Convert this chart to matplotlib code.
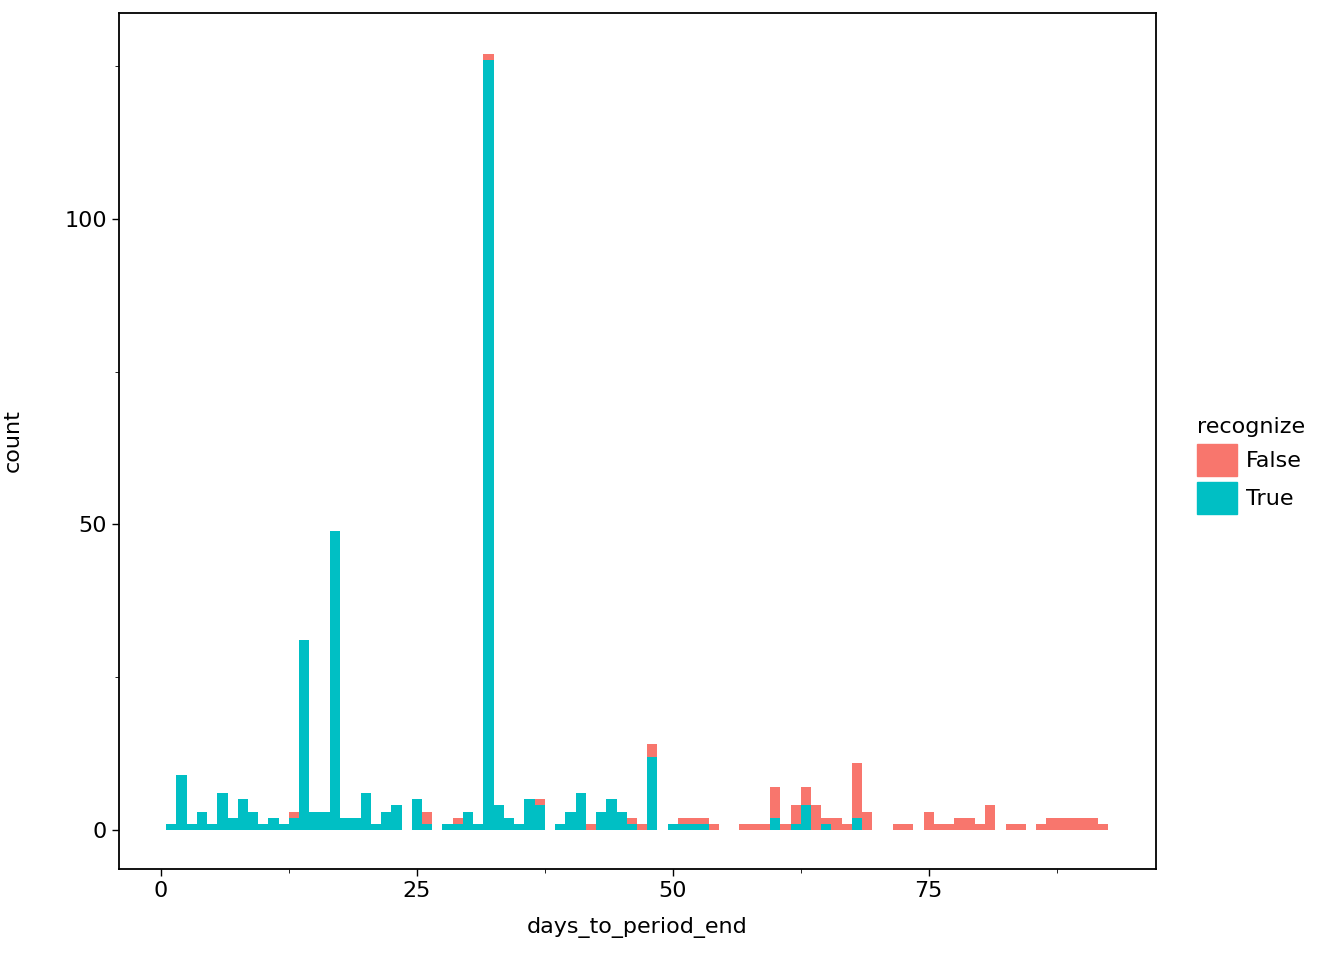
import numpy as np
import matplotlib.pyplot as plt
from matplotlib.patches import Patch
from matplotlib.ticker import MultipleLocator

days = np.arange(1, 93)

true_counts = {1: 1, 2: 9, 3: 1, 4: 3, 5: 1, 6: 6, 7: 2, 8: 5, 9: 3, 10: 1, 11: 2, 12: 1,
               13: 2, 14: 31, 15: 3, 16: 3, 17: 49, 18: 2, 19: 2, 20: 6, 21: 1, 22: 3, 23: 4,
               25: 5, 26: 1, 28: 1, 29: 1, 30: 3, 31: 1, 32: 126, 33: 4, 34: 2, 35: 1, 36: 5,
               37: 4, 39: 1, 40: 3, 41: 6, 43: 3, 44: 5, 45: 3, 46: 1, 48: 12, 50: 1, 51: 1,
               52: 1, 53: 1, 60: 2, 62: 1, 63: 4, 65: 1, 68: 2}
false_counts = {13: 1, 26: 2, 29: 1, 32: 1, 37: 1, 42: 1, 46: 1, 47: 1, 48: 2, 51: 1, 52: 1,
                53: 1, 54: 1, 57: 1, 58: 1, 59: 1, 60: 5, 61: 1, 62: 3, 63: 3, 64: 4, 65: 1,
                66: 2, 67: 1, 68: 9, 69: 3, 72: 1, 73: 1, 75: 3, 76: 1, 77: 1, 78: 2, 79: 2,
                80: 1, 81: 4, 83: 1, 84: 1, 86: 1, 87: 2, 88: 2, 89: 2, 90: 2, 91: 2, 92: 1}

true_vals = np.array([true_counts.get(d, 0) for d in days])
false_vals = np.array([false_counts.get(d, 0) for d in days])

fig = plt.figure(figsize=(13.44, 9.6), dpi=100)
ax = fig.add_axes([119 / 1344, 1 - 869 / 960, (1156 - 119) / 1344, (869 - 13) / 960])

ax.bar(days, true_vals, width=1.0, color="#00BFC4", linewidth=0)
ax.bar(days, false_vals, width=1.0, bottom=true_vals, color="#F8766D", linewidth=0)

ax.set_xlim(-4.1, 97.2)
ax.set_ylim(-6.4, 133.7)
ax.set_xticks([0, 25, 50, 75])
ax.set_yticks([0, 50, 100])
ax.xaxis.set_minor_locator(MultipleLocator(12.5))
ax.yaxis.set_minor_locator(MultipleLocator(25))
ax.tick_params(labelsize=16, length=5, width=1)
ax.tick_params(which="minor", length=3)
for s in ax.spines.values():
    s.set_linewidth(1.3)
ax.set_xlabel("days_to_period_end", fontsize=16, labelpad=12)
ax.set_ylabel("count", fontsize=16, labelpad=30)

handles = [Patch(color="#F8766D", label="False"), Patch(color="#00BFC4", label="True")]
fig.legend(handles=handles, title="recognize", loc="center left", bbox_to_anchor=(1188 / 1344, 0.515),
           frameon=False, fontsize=16, title_fontsize=16, handlelength=1.8, handleheight=1.8,
           labelspacing=0.3, alignment="left", handletextpad=0.4, borderaxespad=0)

fig.savefig("out.png", dpi=100)
